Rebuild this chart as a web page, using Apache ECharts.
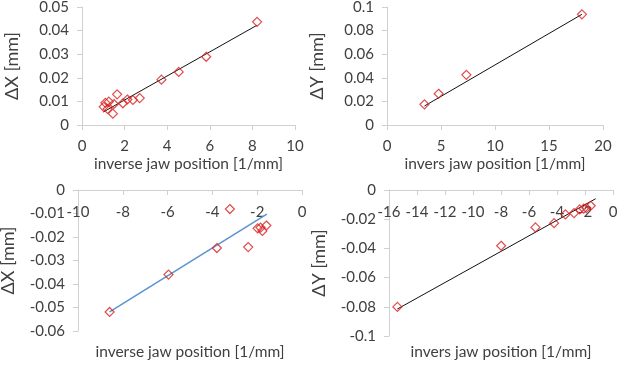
<!DOCTYPE html>
<html><head><meta charset="utf-8">
<script src="https://cdn.jsdelivr.net/npm/echarts@6/dist/echarts.min.js"></script>
<style>html,body{margin:0;padding:0;background:#fff}#c{width:619px;height:368px}</style>
</head><body><div id="c"></div>
<script>
// Panel 1: ΔX vs inverse jaw position (positive)
const x1 = [8.22, 5.83, 4.54, 3.73, 2.71, 2.39, 2.13, 1.92, 1.65, 1.50, 1.45, 1.26, 1.10, 1.02, 1.20];
const y1 = [0.0437, 0.0289, 0.0225, 0.0192, 0.0114, 0.0106, 0.0108, 0.0092, 0.0130, 0.0089, 0.0048, 0.0099, 0.0094, 0.0077, 0.0068];
const trend1X = [1.0, 8.22];
const trend1Y = [0.0055, 0.0423];
// Panel 2: ΔY vs invers jaw position (positive)
const x2 = [3.47, 4.78, 7.35, 18.05];
const y2 = [0.0175, 0.0265, 0.0425, 0.0938];
const trend2X = [3.47, 18.05];
const trend2Y = [0.0161, 0.0938];
// Panel 3: ΔX vs inverse jaw position (negative)
const x3 = [-8.59, -5.96, -3.80, -3.22, -2.40, -1.98, -1.85, -1.77, -1.59];
const y3 = [-0.0519, -0.0360, -0.0247, -0.0081, -0.0243, -0.0163, -0.0160, -0.0174, -0.0151];
const trend3X = [-8.59, -1.57];
const trend3Y = [-0.0519, -0.0103];
// Panel 4: ΔY vs invers jaw position (negative)
const x4 = [-15.4, -7.99, -5.54, -4.21, -3.40, -2.78, -2.38, -2.09, -1.90, -1.59];
const y4 = [-0.0801, -0.0382, -0.0256, -0.0227, -0.0167, -0.0158, -0.0133, -0.0128, -0.0124, -0.0108];
const trend4X = [-15.4, -1.24];
const trend4Y = [-0.0815, -0.0060];

// Axis ranges / tick intervals
const xRanges = [[0, 10, 2], [0, 20, 5], [-10, 0, 2], [-16, 0, 2]];
const yRanges = [[0, 0.05, 0.01], [0, 0.1, 0.02], [-0.06, 0, 0.01], [-0.1, 0, 0.02]];
const xTitles = ['inverse jaw position [1/mm]', 'invers jaw position [1/mm]', 'inverse jaw position [1/mm]', 'invers jaw position [1/mm]'];
const yTitles = ['ΔX [mm]', 'ΔY [mm]', 'ΔX [mm]', 'ΔY [mm]'];

const pair = (xs, ys) => xs.map((x, i) => [x, ys[i]]);
const FONT = 'Lato';
const TXT = '#404040';
const AX = '#d0d0d0';
const RED = '#d92020';

const grids = [
  {left: 82, right: 324, top: 7, bottom: 243},
  {left: 387, right: 16, top: 7, bottom: 243},
  {left: 78, right: 317, top: 190, bottom: 37},
  {left: 389, right: 6, top: 190, bottom: 32}
].map(g => Object.assign(g, {outerBoundsMode: 'none', containLabel: false}));
const xAxis = [], yAxis = [], series = [];
const pts = [pair(x1,y1), pair(x2,y2), pair(x3,y3), pair(x4,y4)];
const trends = [pair(trend1X,trend1Y), pair(trend2X,trend2Y), pair(trend3X,trend3Y), pair(trend4X,trend4Y)];
for (let i = 0; i < 4; i++) {
  const neg = i >= 2;
  xAxis.push({
    type: 'value', gridIndex: i, min: xRanges[i][0], max: xRanges[i][1], interval: xRanges[i][2],
    position: neg ? 'top' : 'bottom',
    splitLine: {show: false},
    axisLine: {show: true, onZero: false, lineStyle: {color: AX, width: 1}},
    axisTick: {show: true, length: 5, inside: neg, lineStyle: {color: AX}},
    axisLabel: {color: TXT, fontFamily: FONT, fontSize: 15, inside: neg, margin: neg ? 15 : 14, hideOverlap: false},
    name: xTitles[i], nameLocation: 'middle', nameGap: neg ? -170 : 31,
    nameTextStyle: {color: TXT, fontFamily: FONT, fontSize: 15.5}
  });
  yAxis.push({
    type: 'value', gridIndex: i, min: yRanges[i][0], max: yRanges[i][1], interval: yRanges[i][2],
    splitLine: {show: false},
    axisLine: {show: true, onZero: false, lineStyle: {color: AX, width: 1}},
    axisTick: {show: true, length: 5, lineStyle: {color: AX}},
    axisLabel: {color: TXT, fontFamily: FONT, fontSize: 15, margin: 13, hideOverlap: false},
    name: yTitles[i], nameLocation: 'middle', nameGap: 61,
    nameTextStyle: {color: TXT, fontFamily: FONT, fontSize: 18}
  });
  series.push({
    type: 'line', xAxisIndex: i, yAxisIndex: i, data: trends[i], showSymbol: false, symbol: 'none',
    lineStyle: {color: i === 2 ? '#5b93d2' : '#111', width: i === 2 ? 1.5 : 1}, z: 2, silent: true
  });
  series.push({
    type: 'scatter', xAxisIndex: i, yAxisIndex: i, data: pts[i], symbol: 'diamond', symbolSize: 9,
    itemStyle: {color: 'rgba(0,0,0,0)', borderColor: RED, borderWidth: 1.2}, z: 3
  });
}
const chart = echarts.init(document.getElementById('c'), null, {renderer: 'canvas'});
chart.setOption({animation: false, backgroundColor: '#fff', grid: grids, xAxis, yAxis, series});
</script></body></html>
